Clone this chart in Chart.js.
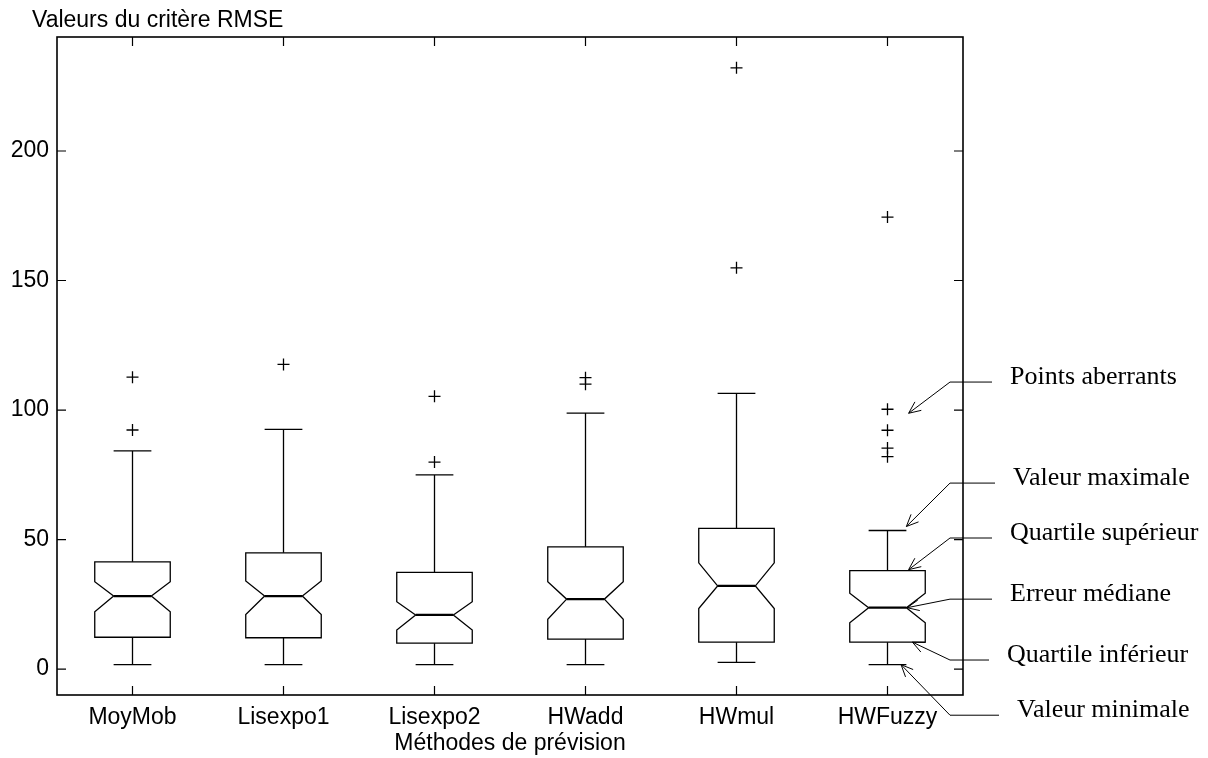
<!DOCTYPE html>
<html>
<head>
<meta charset="utf-8">
<script src="https://cdn.jsdelivr.net/npm/chart.js@4.4.1/dist/chart.umd.min.js"></script>
<style>
  body { margin: 0; background: #fff; }
  canvas { display: block; }
</style>
</head>
<body>
<canvas id="boxChart" width="1208" height="758"></canvas>
<script>
// ---------------- data ----------------
const categories = ["MoyMob", "Lisexpo1", "Lisexpo2", "HWadd", "HWmul", "HWFuzzy"];
const whiskerLow  = [1.7, 1.7, 1.7, 1.7, 2.6, 1.7];
const quartile1   = [12.3, 12.1, 10.0, 11.6, 10.4, 10.4];
const notchLow    = [22.1, 21.1, 15.1, 19.2, 23.4, 17.9];
const medians     = [28.2, 28.2, 20.9, 27.0, 32.1, 23.7];
const notchHigh   = [33.7, 34.0, 26.0, 33.7, 41.0, 29.3];
const quartile3   = [41.4, 44.9, 37.3, 47.2, 54.3, 38.0];
const whiskerHigh = [84.2, 92.5, 75.0, 98.8, 106.4, 53.5];
const outliers = [
    [112.7, 92.3],
    [117.6],
    [105.3, 79.9],
    [112.5, 110.0],
    [232.1, 154.9],
    [174.5, 100.3, 92.2, 85.3, 82.0]
];
const yTicks = { min: -10, max: 244, step: 50 };

// annotations on the right, all pointing at the last box
const annotLabels = ["Points aberrants", "Valeur maximale", "Quartile supérieur",
                     "Erreur médiane", "Quartile inférieur", "Valeur minimale"];
const annotRows = [110.8, 71.8, 50.6, 27.0, 3.5, -17.8]; // level of each leader line (axis units)

const sansFont = "'Liberation Sans', Arial, sans-serif";
const serifFont = "'Liberation Serif', 'Times New Roman', serif";

const outlierPoints = outliers.flatMap((vals, i) => vals.map(v => ({ x: categories[i], y: v })));

//------------ box plot drawing ------------
const notchedBoxes = {
    id: "notchedBoxes",
    afterDatasetsDraw(chart) {
        const { ctx, scales: { x, y } } = chart;
        const catW = x.getPixelForValue(1) - x.getPixelForValue(0);
        const bw = catW * 0.25, nw = catW * 0.125;
        ctx.save();
        ctx.strokeStyle = "#000";
        ctx.lineJoin = "miter";
        categories.forEach((c, i) => {
            const cx = x.getPixelForValue(i);
            const py = v => y.getPixelForValue(v);
            ctx.lineWidth = 1.3;
            ctx.beginPath();
            ctx.moveTo(cx - bw, py(quartile3[i]));
            ctx.lineTo(cx + bw, py(quartile3[i]));
            ctx.lineTo(cx + bw, py(notchHigh[i]));
            ctx.lineTo(cx + nw, py(medians[i]));
            ctx.lineTo(cx + bw, py(notchLow[i]));
            ctx.lineTo(cx + bw, py(quartile1[i]));
            ctx.lineTo(cx - bw, py(quartile1[i]));
            ctx.lineTo(cx - bw, py(notchLow[i]));
            ctx.lineTo(cx - nw, py(medians[i]));
            ctx.lineTo(cx - bw, py(notchHigh[i]));
            ctx.closePath();
            ctx.stroke();
            // whiskers
            ctx.beginPath();
            ctx.moveTo(cx, py(quartile3[i]));
            ctx.lineTo(cx, py(whiskerHigh[i]));
            ctx.moveTo(cx - nw, py(whiskerHigh[i]));
            ctx.lineTo(cx + nw, py(whiskerHigh[i]));
            ctx.moveTo(cx, py(quartile1[i]));
            ctx.lineTo(cx, py(whiskerLow[i]));
            ctx.moveTo(cx - nw, py(whiskerLow[i]));
            ctx.lineTo(cx + nw, py(whiskerLow[i]));
            ctx.stroke();
            // median
            ctx.lineWidth = 2.2;
            ctx.beginPath();
            ctx.moveTo(cx - nw, py(medians[i]));
            ctx.lineTo(cx + nw, py(medians[i]));
            ctx.stroke();
        });
        ctx.restore();
    },
    afterDraw(chart) {
        const { ctx, chartArea: a, scales: { x, y } } = chart;
        ctx.save();
        ctx.strokeStyle = "#000";
        ctx.fillStyle = "#000";
        // frame + inward ticks
        ctx.lineWidth = 1.6;
        ctx.strokeRect(a.left, a.top, a.right - a.left, a.bottom - a.top);
        ctx.lineWidth = 1.2;
        ctx.beginPath();
        y.ticks.forEach(t => {
            const p = y.getPixelForValue(t.value);
            ctx.moveTo(a.left, p); ctx.lineTo(a.left + 9, p);
            ctx.moveTo(a.right, p); ctx.lineTo(a.right - 9, p);
        });
        categories.forEach((c, i) => {
            const p = x.getPixelForValue(i);
            ctx.moveTo(p, a.bottom); ctx.lineTo(p, a.bottom - 9);
            ctx.moveTo(p, a.top); ctx.lineTo(p, a.top + 9);
        });
        ctx.stroke();

        // y title above the axes
        ctx.font = "23px " + sansFont;
        ctx.textBaseline = "alphabetic";
        ctx.textAlign = "left";
        ctx.fillText("Valeurs du critère RMSE", 32, 27);

        // annotations
        const k = categories.length - 1;
        const cx = x.getPixelForValue(k);
        const catW = x.getPixelForValue(1) - x.getPixelForValue(0);
        const tipValues = [outliers[k][1], whiskerHigh[k], quartile3[k], medians[k], quartile1[k], whiskerLow[k]];
        const tipDx = [0.14, 0.125, 0.14, 0.13, 0.165, 0.09];
        const tipDy = [4, -4, -1, 0, 0, 0];
        const textDx = [0, 3, 0, 0, -3, 7];
        const elbowX = a.right - 13;
        ctx.font = "26px " + serifFont;
        ctx.lineWidth = 1;
        annotLabels.forEach((label, i) => {
            const rowY = y.getPixelForValue(annotRows[i]);
            const textX = 1010 + textDx[i];
            const tipX = cx + tipDx[i] * catW;
            const tipY = y.getPixelForValue(tipValues[i]) + tipDy[i];
            ctx.beginPath();
            ctx.moveTo(textX - 18, rowY);
            ctx.lineTo(elbowX, rowY);
            ctx.lineTo(tipX, tipY);
            const ang = Math.atan2(tipY - rowY, tipX - elbowX);
            [-0.42, 0.42].forEach(d => {
                ctx.moveTo(tipX, tipY);
                ctx.lineTo(tipX - 13 * Math.cos(ang + d), tipY - 13 * Math.sin(ang + d));
            });
            ctx.stroke();
            ctx.fillText(label, textX, rowY + 2);
        });
        ctx.restore();
    }
};

const boxChart = new Chart(document.getElementById("boxChart"), {
    type: "scatter",
    data: {
        labels: categories,
        datasets: [{
            label: "Points aberrants",
            data: outlierPoints,
            pointStyle: "cross",
            pointRadius: 6,
            pointBorderWidth: 1.3,
            pointBorderColor: "#000",
            pointBackgroundColor: "#000"
        }]
    },
    options: {
        responsive: false,
        animation: false,
        layout: { padding: { top: 37, right: 245, left: 0, bottom: 0 } },
        plugins: { legend: { display: false }, tooltip: { enabled: false } },
        scales: {
            x: {
                type: "category",
                offset: true,
                grid: { display: false, drawTicks: false },
                border: { display: false },
                ticks: { padding: 9, color: "#000", font: { family: sansFont, size: 23 } },
                title: {
                    display: true,
                    text: "Méthodes de prévision",
                    color: "#000",
                    font: { family: sansFont, size: 23 },
                    padding: { top: 0, bottom: 1 }
                },
                afterFit: s => { s.height = 63; }
            },
            y: {
                min: yTicks.min,
                max: yTicks.max,
                grid: { display: false, drawTicks: false },
                border: { display: false },
                ticks: { stepSize: yTicks.step, includeBounds: false, padding: 8, color: "#000",
                         font: { family: sansFont, size: 23 } },
                afterFit: s => { s.width = 57; }
            }
        }
    },
    plugins: [notchedBoxes]
});
</script>
</body>
</html>
